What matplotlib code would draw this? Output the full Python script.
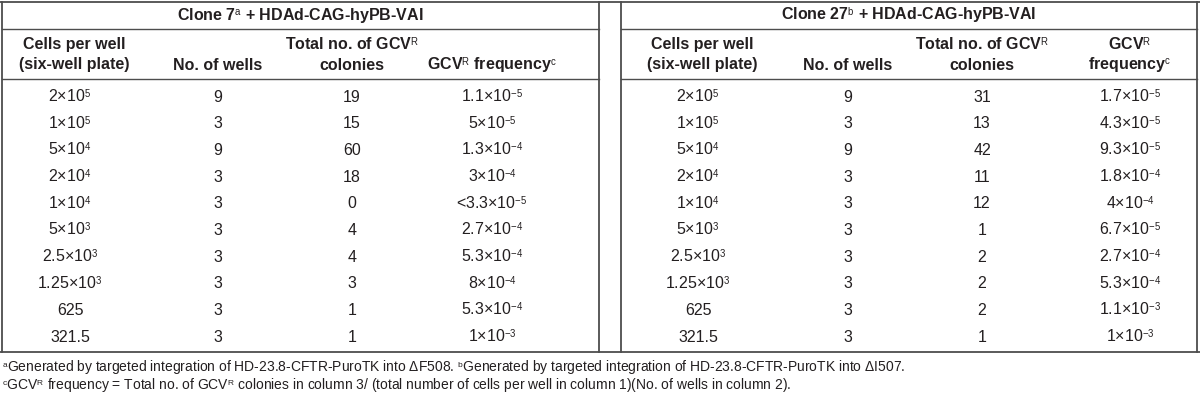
import matplotlib.pyplot as plt
import matplotlib._mathtext as mtx

plt.rcParams['font.family'] = ['Liberation Sans', 'DejaVu Sans']
plt.rcParams['mathtext.fontset'] = 'custom'
plt.rcParams['mathtext.rm'] = 'Liberation Sans'
plt.rcParams['mathtext.it'] = 'Liberation Sans'
plt.rcParams['mathtext.bf'] = 'Liberation Sans:bold'
# smaller, lower superscripts like the printed table
mtx.SHRINK_FACTOR = 0.6
mtx.FontConstantsBase.sup1 = 0.45

# data
cells = ['2×10$^{5}$', '1×10$^{5}$', '5×10$^{4}$', '2×10$^{4}$', '1×10$^{4}$',
         '5×10$^{3}$', '2.5×10$^{3}$', '1.25×10$^{3}$', '625', '321.5']
wells_7 = [9, 3, 9, 3, 3, 3, 3, 3, 3, 3]
colonies_7 = [19, 15, 60, 18, 0, 4, 4, 3, 1, 1]
freq_7 = ['1.1×10$^{-5}$', '5×10$^{-5}$', '1.3×10$^{-4}$', '3×10$^{-4}$', '<3.3×10$^{-5}$',
          '2.7×10$^{-4}$', '5.3×10$^{-4}$', '8×10$^{-4}$', '5.3×10$^{-4}$', '1×10$^{-3}$']
wells_27 = [9, 3, 9, 3, 3, 3, 3, 3, 3, 3]
colonies_27 = [31, 13, 42, 11, 12, 1, 2, 2, 2, 1]
freq_27 = ['1.7×10$^{-5}$', '4.3×10$^{-5}$', '9.3×10$^{-5}$', '1.8×10$^{-4}$', '4×10$^{-4}$',
           '6.7×10$^{-5}$', '2.7×10$^{-4}$', '5.3×10$^{-4}$', '1.1×10$^{-3}$', '1×10$^{-3}$']

titles = ['Clone 7$^{a}$ + HDAd-CAG-hyPB-VAI', 'Clone 27$^{b}$ + HDAd-CAG-hyPB-VAI']
foot1 = ('$^{a}$Generated by targeted integration of HD-23.8-CFTR-PuroTK into ΔF508. '
         '$^{b}$Generated by targeted integration of HD-23.8-CFTR-PuroTK into ΔI507.')
foot2 = ('$^{c}$GCV$^{R}$ frequency = Total no. of GCV$^{R}$ colonies in column 3/ '
         '(total number of cells per well in column 1)(No. of wells in column 2).')

ink = '#231f20'
lc = '#4d4d4d'

fig = plt.figure(figsize=(12, 4), dpi=100)
ax = fig.add_axes([0, 0, 1, 1])
ax.set_xlim(0, 1200)
ax.set_ylim(400, 0)
ax.axis('off')

fs = 11.5
row_y = [97 + 26.67 * i for i in range(len(cells))]

tables = [
    dict(x0=1.5, x1=599, cols=[70, 218, 352, 492], wells=wells_7, col=colonies_7, freq=freq_7),
    dict(x0=621, x1=1197, cols=[698, 848, 982, 1130], wells=wells_27, col=colonies_27, freq=freq_27),
]

# outer lines
ax.plot([0, 1200], [1.5, 1.5], color=lc, lw=1.3)
ax.plot([0, 1200], [352, 352], color=lc, lw=1.3)

for k, t in enumerate(tables):
    x0, x1, c = t['x0'], t['x1'], t['cols']
    ax.plot([x0, x0], [1.5, 352], color=lc, lw=1.3)
    ax.plot([x1, x1], [1.5, 352], color=lc, lw=1.3)
    ax.plot([x0, x1], [29, 29], color=lc, lw=1.0)
    ax.plot([x0, x1], [78.5, 78.5], color=lc, lw=1.0)
    ax.text((x0 + x1) / 2, 15.5, titles[k], ha='center', va='center', fontsize=fs,
            fontweight='bold', color=ink)
    hb = dict(ha='center', va='center', fontsize=fs, fontweight='bold', color=ink)
    ax.text(c[0] + 4, 45, 'Cells per well', **hb)
    ax.text(c[0] + 4, 65, '(six-well plate)', **hb)
    ax.text(c[1], 65, 'No. of wells', **hb)
    ax.text(c[2], 45, 'Total no. of GCV$^{R}$', **hb)
    ax.text(c[2], 65, 'colonies', **hb)
    if k == 0:
        ax.text(c[3], 65, 'GCV$^{R}$ frequency$^{c}$', **hb)
    else:
        ax.text(c[3], 45, 'GCV$^{R}$', **hb)
        ax.text(c[3], 65, 'frequency$^{c}$', **hb)
    for i, y in enumerate(row_y):
        kw = dict(ha='center', va='center', fontsize=fs, color=ink)
        ax.text(c[0], y, cells[i], **kw)
        ax.text(c[1], y, str(t['wells'][i]), **kw)
        ax.text(c[2], y, str(t['col'][i]), **kw)
        ax.text(c[3], y, t['freq'][i], **kw)

ax.text(2, 367, foot1, ha='left', va='center', fontsize=10, color=ink)
ax.text(2, 385, foot2, ha='left', va='center', fontsize=10, color=ink)

fig.savefig('out.png', dpi=100)
